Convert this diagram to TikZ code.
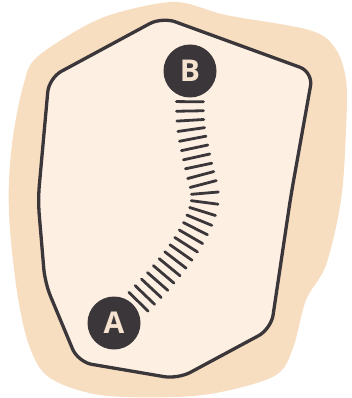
\documentclass[tikz,border=0pt]{standalone}
\usepackage{fontspec}
\setsansfont{Open Sans}
\usetikzlibrary{decorations.markings}
\definecolor{blobc}{HTML}{F8DEC1}
\definecolor{innerc}{HTML}{FDF0E3}
\definecolor{inkc}{HTML}{3B3639}
\definecolor{letterc}{HTML}{F5E3CF}
\tikzset{
  pin/.style={circle, fill=inkc, minimum size=53pt, inner sep=0pt,
    font=\sffamily\bfseries\fontsize{30}{30}\selectfont, text=letterc},
  spring/.style={postaction={decorate}, decoration={markings,
    mark=between positions 4pt and -4pt step 9.3pt with
      {\draw[inkc, line width=2.8pt, line cap=round] (0,-13.5pt) -- (0,13.5pt);}}},
}
\begin{document}
\begin{tikzpicture}[x=1pt,y=-1pt]
\useasboundingbox (0,0) rectangle (352,398);
\fill[white] (0,0) rectangle (352,398);
% outer blob
\fill[blobc] plot[smooth cycle, tension=0.55] coordinates {
 (176,2) (226,15) (309,30) (335,48) (346,80) (346,130) (341,200) (326,265)
 (306,300) (293,348) (276,375) (226,391) (176,397) (100,395) (50,378)
 (30,348) (18,298) (10,230) (9,180) (14,130) (24,83) (36,58) (83,27) (120,12)};
% inner region
\draw[inkc, line width=3.3pt, fill=innerc, rounded corners=14pt]
 (38,200) -- (49,78) -- (162,17) -- (313,72) -- (291,195) -- (271,329)
 -- (178,379) -- (78,362) -- (45,283) -- cycle;
% pins
\node[pin] (B) at (190,71) {B};
\node[pin] (A) at (114,323) {A};
% spring connector
\path[spring] plot[smooth, tension=0.6] coordinates {
 (B.south) (191,128) (199,168) (205,196) (199,221) (182,251) (158,281) (A.40)};
\end{tikzpicture}
\end{document}
